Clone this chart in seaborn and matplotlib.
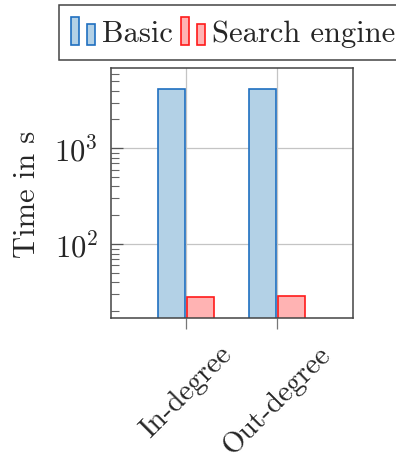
import matplotlib
matplotlib.use("Agg")
import matplotlib.pyplot as plt
from matplotlib.patches import Rectangle
from matplotlib.legend_handler import HandlerBase
from matplotlib.ticker import LogLocator, NullFormatter
import seaborn as sns
import pandas as pd

# data
categories = ["In-degree", "Out-degree"]
methods = ["Basic", "Search engine"]
basic_times = [4180, 4120]
search_times = [28.0, 28.7]

fill_colors = {"Basic": "#b3d1e6", "Search engine": "#ffb3b3"}
edge_colors = {"Basic": "#1f6fc0", "Search engine": "#ff1a1a"}

df = pd.DataFrame({
    "degree": categories * 2,
    "method": [methods[0]] * 2 + [methods[1]] * 2,
    "time": basic_times + search_times,
})

sns.set_style("white")
plt.rcParams["font.family"] = ["cmr10", "DejaVu Serif"]
plt.rcParams["mathtext.fontset"] = "cm"
plt.rcParams["axes.formatter.use_mathtext"] = True
FS = 22


class TwoBars(HandlerBase):
    # pgfplots style ybar legend: two small bars of different heights
    def create_artists(self, legend, orig_handle, xdescent, ydescent,
                       width, height, fontsize, trans):
        fc = orig_handle.get_facecolor()
        ec = orig_handle.get_edgecolor()
        w = width * 0.34
        r1 = Rectangle((-xdescent, -ydescent), w, height, facecolor=fc,
                       edgecolor=ec, lw=1.2, transform=trans)
        r2 = Rectangle((-xdescent + width - w, -ydescent), w, height * 0.76,
                       facecolor=fc, edgecolor=ec, lw=1.2, transform=trans)
        return [r1, r2]


fig = plt.figure(figsize=(3.96, 4.64), dpi=100)
ax = fig.add_axes([0.2795, 0.3119, 0.611, 0.540])

sns.barplot(data=df, x="degree", y="time", hue="method", order=categories,
            hue_order=methods, palette=fill_colors, width=0.64, gap=0.07,
            ax=ax, legend=False, errorbar=None, saturation=1)
for cont, m in zip(ax.containers, methods):
    for bar in cont:
        bar.set_edgecolor(edge_colors[m])
        bar.set_linewidth(1.2)

ax.set_yscale("log")
ax.set_ylim(16.9, 6920)
ax.set_xlim(-0.831, 1.829)
ax.yaxis.set_major_locator(LogLocator(base=10))
ax.yaxis.set_minor_locator(LogLocator(base=10, subs=range(2, 10)))
ax.yaxis.set_minor_formatter(NullFormatter())

ax.set_axisbelow(True)
ax.grid(True, which="major", color="#c4c4c4", lw=0.9)
for s in ax.spines.values():
    s.set_color("#444444")
    s.set_linewidth(1.1)

ax.tick_params(axis="y", which="major", direction="in", length=8.5, width=0.9,
               color="#555555", labelsize=FS, pad=9, right=False, left=True)
ax.tick_params(axis="y", which="minor", direction="in", length=5.8, width=0.8,
               color="#666666", right=False, left=True)
ax.tick_params(axis="x", which="major", direction="out", length=8, width=0.9,
               color="#777777", labelsize=21, pad=8, labelrotation=45,
               bottom=True, top=False)

ax.set_xlabel("")
ax.set_ylabel("Time in s", fontsize=FS)
ax.yaxis.set_label_coords(-0.29, 0.5)

handles = [Rectangle((0, 0), 1, 1, facecolor=fill_colors[m],
                     edgecolor=edge_colors[m]) for m in methods]
leg = fig.legend(handles, methods, loc="upper left",
                 bbox_to_anchor=(0.148, 0.987), ncol=2, fontsize=FS,
                 handler_map={Rectangle: TwoBars()}, frameon=True,
                 fancybox=False, edgecolor="#444444", framealpha=1,
                 handlelength=0.8, handleheight=1.0, handletextpad=0.22,
                 columnspacing=0.25, borderpad=0.4, borderaxespad=0)
leg.get_frame().set_linewidth(1.1)

plt.savefig("out.png", dpi=100)
